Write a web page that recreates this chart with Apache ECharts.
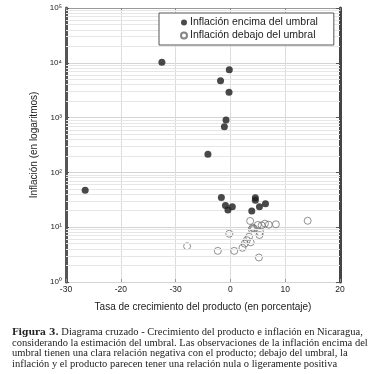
<!DOCTYPE html>
<html>
<head>
<meta charset="utf-8">
<script src="https://cdn.jsdelivr.net/npm/echarts@6/dist/echarts.min.js"></script>
<style>
  html, body { margin: 0; padding: 0; background: #fff; }
  #chart { width: 373px; height: 374px; }
</style>
</head>
<body>
<div id="chart"></div>
<script>
// inflación encima del umbral: [crecimiento %, inflación %]
const aboveX = [-26.5, -12.5, -4.1, -1.8, -0.2, -0.25, -0.8, -1.1, -1.65, -0.9, -0.45, 0.35, 3.9, 4.55, 4.55, 5.3, 6.4]
const aboveY = [47, 10200, 215, 4700, 7500, 2900, 900, 680, 35, 25, 20.5, 23.5, 19.8, 34.5, 31, 23.5, 26.8]
// inflación debajo del umbral
const belowX = [-7.9, -2.3, -0.2, 0.7, 2.2, 2.6, 3.0, 3.4, 3.7, 3.6, 3.9, 4.1, 4.3, 5.0, 5.3, 5.4, 5.7, 6.3, 7.0, 8.3, 14.1, 5.2]
const belowY = [4.5, 3.7, 7.6, 3.7, 4.2, 5.0, 5.8, 6.7, 5.3, 13.0, 9.2, 9.8, 9.4, 11.0, 7.2, 8.1, 10.8, 11.6, 11.1, 11.3, 13.1, 2.8]

const xTickValues = [-30, -20, -10, 0, 10, 20]
const xTickLabels = ['-30', '-20', '-30', '0', '10', '20'] // como en el original
const decades = [1, 10, 100, 1000, 10000]
const minorSteps = [2, 3, 4, 5, 6, 7, 8, 9]

const captionLines = [
  ['Figura 3.', ' Diagrama cruzado - Crecimiento del producto e inflación en Nicaragua,'],
  ['', 'considerando la estimación del umbral. Las observaciones de la inflación encima del'],
  ['', 'umbral tienen una clara relación negativa con el producto; debajo del umbral, la'],
  ['', 'inflación y el producto parecen tener una relación nula o ligeramente positiva']
]

const sup = { '0': '⁰', '1': '¹', '2': '²', '3': '³', '4': '⁴', '5': '⁵', '6': '⁶', '7': '⁷', '8': '⁸', '9': '⁹' }

function zip(xs, ys) {
  return xs.map((x, i) => [x, ys[i]])
}

// lineas menores de la cuadricula logaritmica
const minorLines = []
decades.forEach(d => {
  minorSteps.forEach(m => {
    minorLines.push({ yAxis: d * m })
  })
})

const chart = echarts.init(document.getElementById('chart'), null, { renderer: 'canvas' })

const graphics = captionLines.map((line, i) => ({
  type: 'text',
  left: 12,
  top: 327 + i * 10.6,
  style: {
    text: (line[0] ? '{b|' + line[0] + '}' : '') + '{n|' + line[1] + '}',
    rich: {
      b: { fontFamily: 'DejaVu Serif', fontWeight: 'bold', fontSize: 9.2, fill: '#222' },
      n: { fontFamily: 'Liberation Serif', fontSize: 10.5, fill: '#222' }
    }
  }
}))

chart.setOption({
  animation: false,
  textStyle: { fontFamily: 'Liberation Sans' },
  grid: { left: 66, top: 8, width: 274, height: 274, containLabel: false },
  legend: {
    orient: 'vertical',
    left: 159,
    top: 13,
    z: 20,
    padding: [4, 16, 4, 21],
    itemGap: 2,
    itemWidth: 6,
    itemHeight: 6,
    backgroundColor: '#fff',
    borderColor: '#555',
    borderWidth: 1,
    textStyle: { fontSize: 10.5, color: '#222', padding: [0, 0, 0, -2] },
    data: ['Inflación encima del umbral', 'Inflación debajo del umbral']
  },
  xAxis: [{
    type: 'value',
    min: -30,
    max: 20,
    interval: 10,
    name: 'Tasa de crecimiento del producto (en porcentaje)',
    nameLocation: 'middle',
    nameGap: 20,
    nameTextStyle: { fontSize: 10, color: '#222' },
    axisLine: { show: false },
    axisTick: { show: true, inside: true, length: 3, lineStyle: { color: '#999' } },
    axisLabel: {
      fontSize: 8.5,
      color: '#222',
      margin: 3,
      formatter: v => xTickLabels[xTickValues.indexOf(v)]
    },
    splitLine: { show: true, lineStyle: { color: '#dcdcdc', width: 1 } }
  }, {
    type: 'value',
    position: 'top',
    min: -30,
    max: 20,
    interval: 10,
    axisLine: { show: true, onZero: false, lineStyle: { color: '#999', width: 1 } },
    axisTick: { show: true, inside: true, length: 3, lineStyle: { color: '#888' } },
    axisLabel: { show: false },
    splitLine: { show: false }
  }],
  yAxis: [{
    type: 'log',
    logBase: 10,
    min: 1,
    max: 100000,
    name: 'Inflación (en logaritmos)',
    nameLocation: 'middle',
    nameGap: 20,
    nameTextStyle: { fontSize: 10, color: '#222' },
    axisLine: { show: true, onZero: false, lineStyle: { color: '#555', width: 3 } },
    axisTick: { show: true, inside: true, length: 3, lineStyle: { color: '#555' } },
    axisLabel: {
      fontSize: 8,
      color: '#222',
      margin: 4,
      formatter: v => '10' + String(Math.round(Math.log10(v))).split('').map(c => sup[c]).join('')
    },
    splitLine: { show: true, lineStyle: { color: '#d4d4d4', width: 1 } }
  }, {
    type: 'log',
    logBase: 10,
    min: 1,
    max: 100000,
    position: 'right',
    axisLine: { show: true, onZero: false, lineStyle: { color: '#444', width: 3 } },
    axisTick: { show: true, inside: true, length: 4, lineStyle: { color: '#555' } },
    axisLabel: { show: false },
    splitLine: { show: false }
  }],
  series: [{
    name: 'grid-minor',
    type: 'line',
    data: [],
    silent: true,
    markLine: {
      silent: true,
      symbol: 'none',
      label: { show: false },
      lineStyle: { color: '#e6e6e6', width: 1, type: 'solid' },
      data: minorLines
    }
  }, {
    name: 'Inflación encima del umbral',
    type: 'scatter',
    symbol: 'circle',
    symbolSize: 7,
    itemStyle: { color: '#1c1c1c' },
    data: zip(aboveX, aboveY),
    z: 5
  }, {
    name: 'Inflación debajo del umbral',
    type: 'scatter',
    symbol: 'circle',
    symbolSize: 7,
    itemStyle: { color: 'rgba(255,255,255,0)', borderColor: '#666', borderWidth: 0.9 },
    data: zip(belowX, belowY),
    z: 4
  }],
  graphic: graphics
})
</script>
</body>
</html>
